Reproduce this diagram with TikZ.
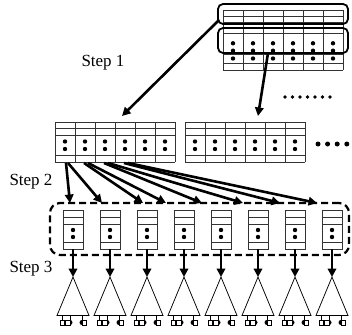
\documentclass[tikz,border=0pt]{standalone}
\usepackage{fontspec}
\setmainfont{Liberation Serif}
\usetikzlibrary{arrows.meta}
\begin{document}
\begin{tikzpicture}[x=1pt,y=-1pt,
  gridline/.style={line width=0.8pt, draw=black!80},
  groupbox/.style={draw, line width=1.8pt, rounded corners=5pt, inner sep=0pt},
  binframe/.style={draw, line width=2.2pt, dash pattern=on 7pt off 4pt, rounded corners=10pt, inner sep=0pt},
  flow/.style={line width=2.6pt, -{Triangle[length=8.5pt,width=8.5pt]}},
  treeline/.style={line width=0.75pt},
  steplabel/.style={font=\fontsize{17}{17}\selectfont, inner sep=0pt}]

\useasboundingbox (0,0) rectangle (352,334);

% ---- top table ----
\foreach \yy in {10,16.7,22.7,27.3,33.3,54.5,63.3,70}
  \draw[gridline] (223,\yy) -- (343,\yy);
\foreach \xx in {223,243,...,343}
  \draw[gridline] (\xx,10) -- (\xx,70);
\foreach \xx in {233,253,...,333} {
  \fill (\xx,43.3) circle (2.2pt);
  \fill (\xx,50.7) circle (2.2pt);
  \fill (\xx,58.5) circle (2.2pt);
}
\node[groupbox, minimum width=130pt, minimum height=20pt] (g1) at (283,14) {};
\node[groupbox, minimum width=130pt, minimum height=25pt] (g2) at (283,40.5) {};
\foreach \i in {0,...,6}
  \fill (285+7.5*\i,97) circle (1.8pt);

% ---- middle tables ----
\foreach \xs in {55,185} {
  \foreach \yy in {122,128.5,135,155.5,162}
    \draw[gridline] (\xs,\yy) -- (\xs+120,\yy);
  \foreach \k in {0,...,6}
    \draw[gridline] (\xs+20*\k,122) -- (\xs+20*\k,162);
  \foreach \k in {0,...,5} {
    \fill (\xs+10+20*\k,141.5) circle (2.2pt);
    \fill (\xs+10+20*\k,149) circle (2.2pt);
  }
}
\foreach \i in {0,...,3}
  \fill (318+9.6*\i,144) circle (2.5pt);

% ---- bins and trees ----
\node[binframe, minimum width=299pt, minimum height=52pt] (bins) at (199.5,229) {};
\foreach \i in {0,...,7} {
  \pgfmathsetmacro{\c}{73+37*\i}
  \draw[line width=0.9pt, draw=black!80] (\c-10,210) rectangle (\c+10,249);
  \foreach \yy in {217,224,242}
    \draw[gridline] (\c-10,\yy) -- (\c+10,\yy);
  \fill (\c,230) circle (2.2pt);
  \fill (\c,237) circle (2.2pt);
  \coordinate (b\i) at (\c,249);
  \coordinate (t\i) at (\c,277);
  % tree with its leaves
  \draw[treeline] (\c,277) -- (\c-16,315.5) -- (\c+16,315.5) -- cycle;
  \draw[treeline] (\c-10.5,315.5) -- (\c-10.5,320)
                  (\c-3,315.5) -- (\c-3,320)
                  (\c+9,315.5) -- (\c+9,320);
  \draw[treeline] (\c-13,320) rectangle (\c-8.5,325);
  \draw[treeline] (\c-7.5,320) rectangle (\c-3,325);
  \fill (\c-3,320) arc[start angle=90, end angle=-90, radius=2.5pt] -- cycle;
  \fill (\c+9,320) arc[start angle=90, end angle=270, radius=2.5pt] -- cycle;
  \draw[treeline] (\c+9,320) rectangle (\c+13.5,325);
  \draw[flow, line width=2.5pt] (b\i) -- (t\i);
}

% ---- step 1 arrows ----
\coordinate (s1a) at (219,20);
\coordinate (e1a) at (122,116);
\coordinate (s1b) at (268,53);
\coordinate (e1b) at (258,116);
\draw[flow] (s1a) -- (e1a);
\draw[flow] (s1b) -- (e1b);

% ---- step 2 arrows ----
\coordinate (p0) at (66,163);
\coordinate (p1) at (68,163);
\coordinate (p2) at (84,163);
\coordinate (p3) at (88,163);
\coordinate (p4) at (104,163);
\coordinate (p5) at (108,163);
\coordinate (p6) at (124,163);
\coordinate (p7) at (128,163);
\coordinate (q0) at (70,203);
\coordinate (q1) at (102,203);
\coordinate (q2) at (143,203);
\coordinate (q3) at (166,203);
\coordinate (q4) at (202,203);
\coordinate (q5) at (243,203);
\coordinate (q6) at (280,203);
\coordinate (q7) at (317,203);
\foreach \i in {0,...,7}
  \draw[flow] (p\i) -- (q\i);

% ---- labels ----
\node[steplabel] (l1) at (103,63) {Step 1};
\node[steplabel] (l2) at (31,182) {Step 2};
\node[steplabel] (l3) at (31,269) {Step 3};
\end{tikzpicture}
\end{document}
